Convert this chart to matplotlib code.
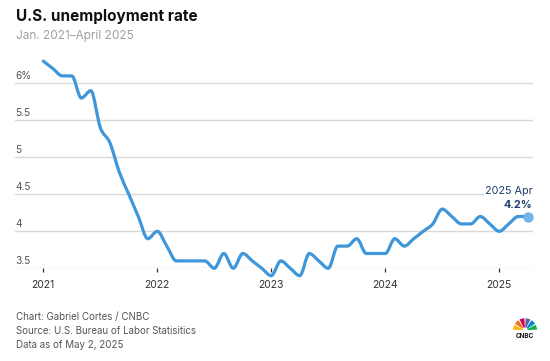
import matplotlib
matplotlib.use('Agg')
import matplotlib.pyplot as plt
import numpy as np
from matplotlib.patches import Wedge, PathPatch
from matplotlib.path import Path
from matplotlib.transforms import blended_transform_factory

plt.rcParams['font.family'] = ['Inter', 'DejaVu Sans']

# monthly U.S. unemployment rate, Jan 2021 - Apr 2025
rate_2021 = [6.3, 6.2, 6.1, 6.1, 5.8, 5.9, 5.4, 5.2, 4.8, 4.5, 4.2, 3.9]
rate_2022 = [4.0, 3.8, 3.6, 3.6, 3.6, 3.6, 3.5, 3.7, 3.5, 3.7, 3.6, 3.5]
rate_2023 = [3.4, 3.6, 3.5, 3.4, 3.7, 3.6, 3.5, 3.8, 3.8, 3.9, 3.7, 3.7]
rate_2024 = [3.7, 3.9, 3.8, 3.9, 4.0, 4.1, 4.3, 4.2, 4.1, 4.1, 4.2, 4.1]
rate_2025 = [4.0, 4.1, 4.2, 4.2]
rates = rate_2021 + rate_2022 + rate_2023 + rate_2024 + rate_2025
months = list(range(len(rates)))

year_ticks = [0, 12, 24, 36, 48]
year_labels = ['2021', '2022', '2023', '2024', '2025']
y_ticks = [3.5, 4, 4.5, 5, 5.5, 6]
y_labels = ['3.5', '4', '4.5', '5', '5.5', '6%']


def monotone_path(x, y):
    # bezier path through the points, same shape as d3.curveMonotoneX
    x = np.asarray(x, float)
    y = np.asarray(y, float)
    h = np.diff(x)
    d = np.diff(y) / h
    t = np.zeros(len(x))
    for i in range(1, len(x) - 1):
        s0, s1 = d[i - 1], d[i]
        p = (s0 * h[i] + s1 * h[i - 1]) / (h[i - 1] + h[i])
        t[i] = (np.sign(s0) + np.sign(s1)) * min(abs(s0), abs(s1), 0.5 * abs(p))
    t[0] = (3 * d[0] - t[1]) / 2
    t[-1] = (3 * d[-1] - t[-2]) / 2
    verts = [(x[0], y[0])]
    codes = [Path.MOVETO]
    for i in range(len(x) - 1):
        dx = h[i] / 3
        verts += [(x[i] + dx, y[i] + dx * t[i]), (x[i + 1] - dx, y[i + 1] - dx * t[i + 1]),
                  (x[i + 1], y[i + 1])]
        codes += [Path.CURVE4] * 3
    return Path(verts, codes)


W, H = 550, 361
fig = plt.figure(figsize=(W / 100, H / 100), dpi=100)
ax = fig.add_axes([15 / W, 1 - 268.3 / H, (533 - 15) / W, (268.3 - 57.4) / H])

blue = '#3f96d9'
line = PathPatch(monotone_path(months, rates), fill=False, ec=blue, lw=2.3,
                 joinstyle='round', capstyle='round', clip_on=False, zorder=3)
ax.add_patch(line)
ax.plot(months[-1], rates[-1], 'o', ms=7.5, color='#73b3e8', mec='none',
        clip_on=False, zorder=4)

ax.set_xlim(-2.98, 51.55)
ax.set_ylim(3.5, 6.35)

for v, lab in zip(y_ticks, y_labels):
    ax.axhline(v, color='#d9d9d9', lw=1, zorder=1)
    ax.annotate(lab, (0, v), xycoords=blended_transform_factory(ax.transAxes, ax.transData),
                xytext=(0, 3.1), textcoords='offset points', ha='left', va='baseline',
                fontsize=7.3, color='#555555')

for s in ax.spines.values():
    s.set_visible(False)
ax.set_yticks([])
ax.set_xticks(year_ticks)
ax.set_xticklabels(year_labels)
ax.tick_params(axis='x', length=3.2, width=0.9, color='#333333', pad=5,
               labelsize=7.5, labelcolor='#333333')

ax.annotate('2025 Apr', (months[-1], rates[-1]), xytext=(3.3, 18), textcoords='offset points',
            ha='right', va='center', fontsize=7.8, color='#1f3f6e',
            bbox=dict(boxstyle='square,pad=0.1', fc='white', ec='none'), zorder=5)
ax.annotate(f'{rates[-1]}%', (months[-1], rates[-1]), xytext=(3.3, 8.6), textcoords='offset points',
            ha='right', va='center', fontsize=7.8, color='#1f3f6e', fontweight='bold', zorder=5)

fig.text(15.5 / W, 1 - 21 / H, 'U.S. unemployment rate', fontsize=11, fontweight='bold',
         color='#111111', ha='left', va='baseline')
fig.text(15.5 / W, 1 - 39.5 / H, 'Jan. 2021\u2013April 2025', fontsize=8.5, color='#a0a0a0',
         ha='left', va='baseline')

footer = ['Chart: Gabriel Cortes / CNBC', 'Source: U.S. Bureau of Labor Statisitics',
          'Data as of May 2, 2025']
for i, line_txt in enumerate(footer):
    fig.text(15.5 / W, 1 - (320 + 14 * i) / H, line_txt, fontsize=7, color='#555555',
             ha='left', va='baseline')

# small peacock logo
lax = fig.add_axes([513 / W, 1 - 331 / H, 24 / W, 14 / H])
lax.set_xlim(-1.1, 1.1)
lax.set_ylim(-0.05, 1.2)
lax.set_aspect('equal')
lax.axis('off')
feathers = ['#0db14b', '#0089d0', '#6460aa', '#cc004c', '#f37021', '#fcb711']
for k, c in enumerate(feathers):
    lax.add_patch(Wedge((0, 0), 1.1, 180 / 6 * k + 3, 180 / 6 * (k + 1) - 3, width=0.85, fc=c, ec='none'))
fig.text(525 / W, 1 - 335.5 / H, 'CNBC', fontsize=4.6, fontweight='bold', color='#1a1a1a',
         ha='center', va='center')

fig.savefig('out.png', dpi=100)
